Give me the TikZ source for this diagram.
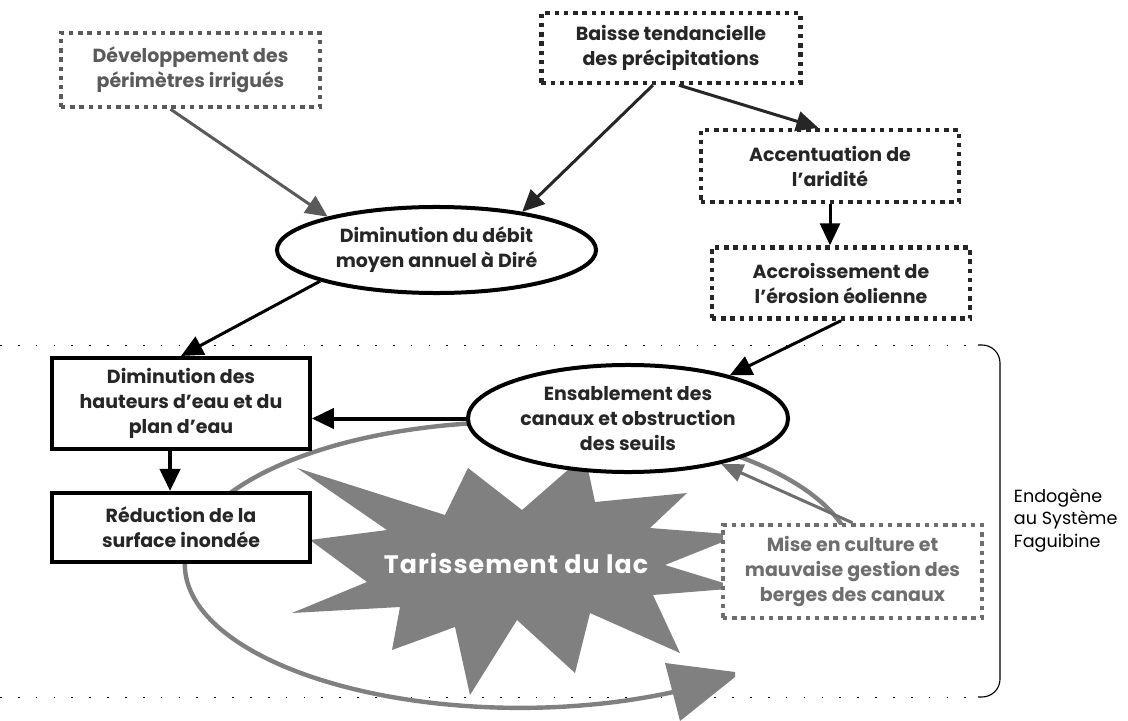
\documentclass[tikz,border=0pt]{standalone}
\usepackage{fontspec}
\setmainfont{Poppins}
\usepackage{tikz}
\usetikzlibrary{shapes.geometric, arrows.meta}

\definecolor{darkline}{HTML}{262626}
\definecolor{midgrey}{HTML}{5A5A5A}
\definecolor{softgrey}{HTML}{6E6E6E}
\definecolor{stargrey}{HTML}{808080}

\begin{document}
\begin{tikzpicture}[x=0.025cm, y=-0.025cm,
    txt/.style={font=\fontsize{13.5}{17.8}\selectfont\bfseries, align=center},
    dotbox/.style={txt, rectangle, draw, fill=white, line width=0.11cm, dash pattern=on 0.11cm off 0.12cm, inner sep=0pt},
    plainbox/.style={txt, rectangle, draw=black, fill=white, line width=0.1cm, inner sep=0pt, text=darkline},
    oval/.style={txt, ellipse, draw=black, fill=white, line width=0.1cm, inner sep=0pt, text=darkline},
    link/.style={line width=0.075cm, -{Triangle[length=0.55cm, width=0.5cm]}},
    border/.style={line width=0.7pt, dash pattern=on 1.2pt off 11.5pt}
]
\useasboundingbox (0,0) rectangle (1128,721);

% system limits
\draw[border] (0,345) -- (978,345);
\draw[border] (0,697) -- (978,697);
\draw[line width=0.8pt, rounded corners=0.45cm] (978,345) -- (1000,345) -- (1000,697) -- (978,697);
\node[anchor=west, align=left, font=\fontsize{12.5}{16}\selectfont] (endo) at (1009,520) {Endogène\\au Système\\Faguibine};

% drying loop and burst
\draw[stargrey, line width=0.11cm] (850,540) arc[start angle=10, end angle=297.5, x radius=8.375cm, y radius=3.575cm];
\fill[stargrey] (665,663) -- (735,672) -- (735,677) -- (680,721) -- cycle;
\fill[stargrey] (297,468) -- (445,515) -- (468,468) -- (522,510) -- (585,455) -- (595,502)
    -- (687,493) -- (650,528) -- (740,535) -- (665,565) -- (740,588) -- (653,595)
    -- (680,653) -- (590,613) -- (575,673) -- (517,620) -- (470,695) -- (455,627)
    -- (392,650) -- (400,607) -- (292,613) -- (367,582) -- (310,540) -- (387,530) -- cycle;
\node[font=\fontsize{18}{20}\selectfont\bfseries\addfontfeatures{LetterSpace=4}, text=white] (drylake) at (516,563) {Tarissement du lac};

% causes
\node[dotbox, draw=midgrey, text=midgrey, minimum width=6.475cm, minimum height=1.85cm] (irrig) at (190.5,70) {Développement des\\périmètres irrigués};
\node[dotbox, draw=darkline, text=darkline, minimum width=6.475cm, minimum height=1.75cm] (rain) at (671,48) {Baisse tendancielle\\des précipitations};
\node[dotbox, draw=darkline, text=darkline, minimum width=6.45cm, minimum height=1.8cm] (arid) at (830,166) {Accentuation de\\l’aridité};
\node[dotbox, draw=darkline, text=darkline, minimum width=6.45cm, minimum height=1.775cm] (wind) at (841,283) {Accroissement de\\l’érosion éolienne};
\node[oval, minimum width=7.975cm, minimum height=2.15cm] (flow) at (436.5,250) {Diminution du débit\\moyen annuel à Diré};

% inside the system
\node[plainbox, minimum width=6.44cm, minimum height=2.275cm] (level) at (181,403.5) {Diminution des\\hauteurs d’eau et du\\plan d’eau};
\node[plainbox, minimum width=6.44cm, minimum height=1.725cm] (surf) at (181,527.5) {Réduction de la\\surface inondée};
\node[oval, minimum width=8cm, minimum height=2.675cm] (sand) at (628,418.5) {Ensablement des\\canaux et obstruction\\des seuils};
\node[dotbox, draw=softgrey, text=softgrey, minimum width=6.475cm, minimum height=2.325cm] (banks) at (852.5,571.5) {Mise en culture et\\mauvaise gestion des\\berges des canaux};

\draw[link, midgrey] (irrig.-117) -- (flow.163.5);
\draw[link, darkline] (rain.-116.6) -- (flow.24.3);
\draw[link, darkline] (rain.-78) -- (arid.107);
\draw[link, black] (arid.south) -- (arid.south |- wind.north);
\draw[link, black] (wind.south) -- (sand.23.6);
\draw[link, black] (flow.195.5) -- (level.north);
\draw[link, black, line width=0.1cm] (sand.west) -- (sand.west -| level.east);
\draw[link, black, line width=0.1cm] (level.-103) -- (level.-103 |- surf.north);
\draw[link, softgrey, -{Triangle[length=0.55cm, width=0.45cm]}] (banks.north) -- (sand.-26);
\end{tikzpicture}
\end{document}
